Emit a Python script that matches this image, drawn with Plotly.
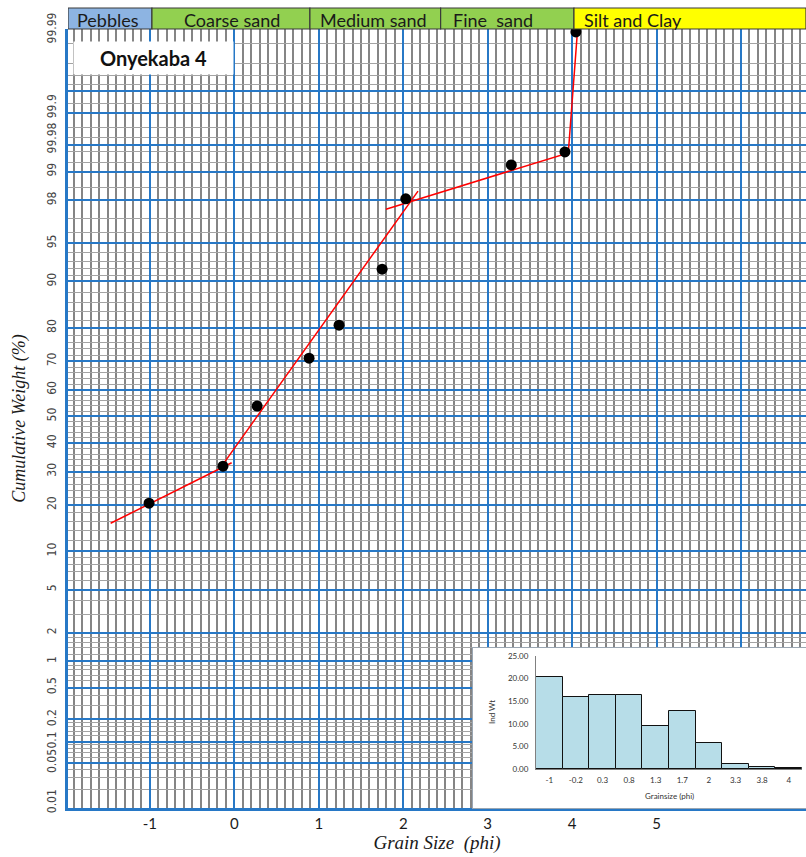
import plotly.graph_objects as go
from statistics import NormalDist

ND = NormalDist()


def z(p):
    return ND.inv_cdf(p / 100.0)


# ---------------- data ----------------
phi = [-1.01, -0.135, 0.27, 0.885, 1.24, 1.75, 2.03, 3.28, 3.915, 4.045]
cum_pct = [20.5, 31.8, 53.9, 71.0, 80.7, 91.9, 98.06, 99.155, 99.40, 99.987]

fitA_phi = [-1.465, -0.032]
fitA_pct = [15.5, 32.97]
fitB_phi = [-0.15, 2.175]
fitB_pct = [31.85, 98.38]
fitC_phi = [1.795, 3.955, 4.061]
fitC_pct = [97.55, 99.384, 99.986]

hist_labels = ["-1", "-0.2", "0.3", "0.8", "1.3", "1.7", "2", "3.3", "3.8", "4"]
hist_wt = [20.27, 15.98, 16.42, 16.27, 9.6, 12.87, 5.84, 1.1, 0.37, 0.22]

zone_names = ["Pebbles", "Coarse sand", "Medium sand", "Fine  sand", "Silt and Clay"]
zone_edges = [-1.97, -0.976, 0.895, 2.443, 4.022, 6.77]
zone_colors = ["#8DB4E2", "#92D050", "#92D050", "#92D050", "#FFFF00"]
zone_text_x = [-1.89, -0.62, 0.99, 2.565, 4.116]

x_ticks = [-1, 0, 1, 2, 3, 4, 5, 6]
x_ticktext = ["-1", "0", "1", "2", "3", "4", "5", ""]
x_minor = [round(-1.9 + 0.1 * i, 2) for i in range(87)]

y_blue_pct = [0.05, 0.1, 0.2, 0.5, 1, 2, 5, 10, 20, 30, 40, 50, 60, 70, 80, 90,
              95, 98, 99, 99.5, 99.8, 99.9]
y_gray_pct = [0.02, 0.03, 0.04, 0.06, 0.07, 0.08, 0.09, 0.12, 0.14, 0.16, 0.18,
              0.3, 0.4, 0.6, 0.7, 0.8, 0.9, 1.2, 1.4, 1.6, 1.8, 3, 4, 6, 7, 8, 9,
              12, 14, 16, 18, 22, 24, 26, 28, 32, 34, 36, 38, 42, 44, 46, 48,
              52, 54, 56, 58, 62, 64, 66, 68, 72, 74, 76, 78, 82, 84, 86, 88,
              91, 92, 93, 94, 96, 97, 98.5, 99.2, 99.4, 99.6, 99.7, 99.85,
              99.92, 99.94, 99.96, 99.98]
ytick_pct = [0.012, 0.05, 0.1, 0.2, 0.5, 1, 2, 5, 10, 20, 30, 40, 50, 60, 70, 80,
             90, 95, 98, 99, 99.57, 99.83, 99.988]
ytick_text = ["0.01", "0.05", "0.1", "0.2", "0.5", "1", "2", "5", "10", "20", "30",
              "40", "50", "60", "70", "80", "90", "95", "98", "99", "99.98",
              "99.9", "99.99"]

BLUE = "#2778C6"
GRAY_V = "#858585"
GRAY_H = "#a3a3a3"
YR = [-3.72, 3.68]
XR = [-1.97, 6.77]

fig = go.Figure()

# fitted segments
for xs, ps in [(fitA_phi, fitA_pct), (fitB_phi, fitB_pct), (fitC_phi, fitC_pct)]:
    fig.add_trace(go.Scatter(x=xs, y=[z(p) for p in ps], mode="lines",
                             line=dict(color="#FF0000", width=1.5),
                             showlegend=False, hoverinfo="skip"))
# points
fig.add_trace(go.Scatter(x=phi, y=[z(p) for p in cum_pct], mode="markers",
                         marker=dict(color="black", size=11, symbol="circle"),
                         showlegend=False))
# dummy for label axis
fig.add_trace(go.Scatter(x=[XR[0]], y=[0], xaxis="x", yaxis="y4", mode="markers",
                         marker=dict(opacity=0), showlegend=False, hoverinfo="skip"))
# inset frame subplot dummy
fig.add_trace(go.Scatter(x=[0.5], y=[0.5], xaxis="x2", yaxis="y2", mode="markers",
                         marker=dict(opacity=0), showlegend=False, hoverinfo="skip"))
# histogram
fig.add_trace(go.Bar(x=hist_labels, y=hist_wt, xaxis="x3", yaxis="y3",
                     marker=dict(color="#B7DDE8", line=dict(color="#111111", width=1)),
                     showlegend=False))

W, H = 806, 857
L, R, T, B = 68, 0, 29, 49
ph = H - T - B


def py(pix):
    return (H - B - pix) / ph


def px(pix):
    return (pix - L) / (W - L - R)


shapes = []
annotations = []
for i, name in enumerate(zone_names):
    shapes.append(dict(type="rect", xref="x", yref="paper",
                       x0=zone_edges[i], x1=zone_edges[i + 1], y0=py(29), y1=py(8),
                       fillcolor=zone_colors[i], line=dict(color="#3a3a3a", width=1.2),
                       layer="above"))
    annotations.append(dict(text=name, xref="x", yref="paper", x=zone_text_x[i],
                            y=py(20), xanchor="left", yanchor="middle", showarrow=False,
                            font=dict(family="Lato, Open Sans, sans-serif", size=18,
                                      color="#1a1a1a")))

annotations.append(dict(text="<b>Onyekaba 4</b>", xref="paper", yref="paper",
                        x=px(153.5), y=py(58), xanchor="center", yanchor="middle",
                        width=157, height=30, bgcolor="white", showarrow=False,
                        font=dict(family="Lato, Open Sans, sans-serif", size=20,
                                  color="#111111")))
annotations.append(dict(text="Ind Wt", xref="paper", yref="paper", x=px(492),
                        y=py(712), xanchor="center", yanchor="middle",
                        textangle=-90, showarrow=False,
                        font=dict(family="Lato, Open Sans, sans-serif", size=8,
                                  color="#333333")))
annotations.append(dict(text="Grainsize (phi)", xref="paper", yref="paper",
                        x=px(669), y=py(796), xanchor="center", yanchor="middle",
                        showarrow=False,
                        font=dict(family="Lato, Open Sans, sans-serif", size=8,
                                  color="#333333")))

fig.update_layout(
    width=W, height=H,
    margin=dict(l=L, r=R, t=T, b=B, pad=0),
    paper_bgcolor="white", plot_bgcolor="white",
    shapes=shapes, annotations=annotations,
    bargap=0,
    xaxis=dict(domain=[0, 1], range=XR, tickmode="array", tickvals=x_ticks,
               ticktext=x_ticktext, showgrid=True, gridcolor=BLUE, gridwidth=2.2,
               minor=dict(tickvals=x_minor, showgrid=True, gridcolor=GRAY_V,
                          gridwidth=1.5, ticks=""),
               zeroline=False, showline=True, linecolor=BLUE, linewidth=2.5,
               ticks="", ticklabelstandoff=0,
               tickfont=dict(family="Lato, Open Sans, sans-serif", size=15,
                             color="#1a1a1a"),
               title=dict(text="Grain Size  (phi)", standoff=4,
                          font=dict(family="Liberation Serif, Times New Roman, serif",
                                    size=19, style="italic", color="#1a1a1a"))),
    yaxis=dict(domain=[0, 1], range=YR, tickmode="array",
               tickvals=[z(p) for p in y_blue_pct], showticklabels=False,
               showgrid=True, gridcolor=BLUE, gridwidth=2,
               minor=dict(tickvals=[z(p) for p in y_gray_pct], showgrid=True,
                          gridcolor=GRAY_H, gridwidth=1.2, ticks=""),
               zeroline=False, showline=True, linecolor=BLUE, linewidth=2.5,
               ticks=""),
    yaxis4=dict(overlaying="y", anchor="x", side="left", range=YR, tickmode="array",
                tickvals=[z(p) for p in ytick_pct], ticktext=ytick_text,
                tickangle=-90, showgrid=False, zeroline=False, showline=False,
                ticks="", ticklabelstandoff=9,
                tickfont=dict(family="Liberation Sans Narrow, DejaVu Sans Condensed, sans-serif",
                              size=12, color="#444444"),
                title=dict(text="Cumulative Weight (%)", standoff=14,
                           font=dict(family="Liberation Serif, Times New Roman, serif",
                                     size=18, style="italic", color="#1a1a1a"))),
    xaxis2=dict(domain=[px(473), 1], range=[0, 1], anchor="y2", showgrid=False,
                zeroline=False, showticklabels=False, showline=True, mirror=True,
                linecolor="#9aa6b2", linewidth=1, ticks=""),
    yaxis2=dict(domain=[0, py(648)], range=[0, 1], anchor="x2", showgrid=False,
                zeroline=False, showticklabels=False, showline=True, mirror=True,
                linecolor="#9aa6b2", linewidth=1, ticks=""),
    xaxis3=dict(domain=[px(536), px(802)], anchor="y3", type="category",
                showgrid=False, zeroline=False, showline=True, linecolor="#808080",
                linewidth=1, ticks="", ticklabelstandoff=3,
                tickfont=dict(family="Lato, Open Sans, sans-serif", size=8,
                              color="#333333")),
    yaxis3=dict(domain=[py(769), py(656)], anchor="x3", range=[0, 25], dtick=5,
                tickformat=".2f", showgrid=False, zeroline=False, showline=True,
                linecolor="#808080", linewidth=1, ticks="", ticklabelstandoff=5,
                tickfont=dict(family="Lato, Open Sans, sans-serif", size=8,
                              color="#333333")),
)

fig.write_html("out.html", config={"displayModeBar": False},
               post_script="document.body.style.margin='0px';"
                           "document.body.style.overflow='hidden';")
